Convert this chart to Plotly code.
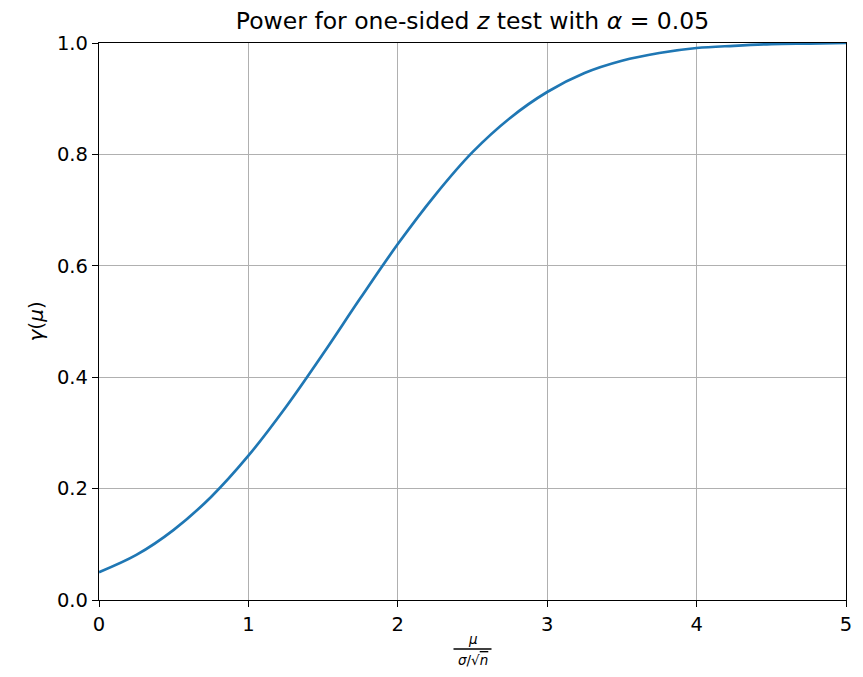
import plotly.graph_objects as go

# values (power curve)
x_vals = [0, 0.25, 0.5, 0.75, 1.0, 1.25, 1.5, 1.75, 2.0, 2.25, 2.5,
          2.75, 3.0, 3.25, 3.5, 3.75, 4.0, 4.25, 4.5, 4.75, 5.0]
power = [0.050, 0.081, 0.126, 0.185, 0.259, 0.346, 0.442, 0.542, 0.639, 0.727, 0.804,
         0.865, 0.912, 0.946, 0.968, 0.982, 0.991, 0.995, 0.998, 0.999, 1.000]
x_ticks = [0, 1, 2, 3, 4, 5]
y_ticks = [0.0, 0.2, 0.4, 0.6, 0.8, 1.0]
y_tick_text = ["0.0", "0.2", "0.4", "0.6", "0.8", "1.0"]

W, H = 847, 661
L, R, T, B = 91, 9, 35, 69

fig = go.Figure()
fig.add_trace(go.Scatter(x=x_vals, y=power, mode="lines",
                         line=dict(color="#1f77b4", width=2.7, shape="spline", smoothing=1.0),
                         showlegend=False))

axis_common = dict(showline=True, linecolor="black", linewidth=1.3, mirror=True,
                   ticks="outside", ticklen=6, tickwidth=1.2, tickcolor="black",
                   showgrid=True, gridcolor="#b0b0b0", gridwidth=1.3, zeroline=False,
                   automargin=False,
                   tickfont=dict(family="DejaVu Sans", size=19.5, color="black"))

fig.update_layout(
    width=W, height=H,
    margin=dict(l=L, r=R, t=T, b=B, autoexpand=False),
    paper_bgcolor="white", plot_bgcolor="white",
    title=dict(text="Power for one-sided <i>z</i> test with <i>α</i> = 0.05",
               x=(L + (W - R)) / 2 / W, xanchor="center", y=1 - 13 / H, yanchor="middle",
               font=dict(family="DejaVu Sans", size=23.5, color="black")),
    xaxis=dict(range=[0, 5], tickvals=x_ticks, **axis_common),
    yaxis=dict(range=[0, 1], tickvals=y_ticks, ticktext=y_tick_text, **axis_common),
)

plot_w = W - L - R
plot_h = H - T - B

def py(pix_below):
    return -pix_below / plot_h

# y axis label
fig.add_annotation(text="<i>γ</i>(<i>μ</i>)", xref="paper", yref="paper",
                   x=-(L - 27) / plot_w, y=0.5, textangle=-90,
                   showarrow=False, xanchor="center", yanchor="middle",
                   font=dict(family="DejaVu Sans", size=20, color="black"))

# fraction-style x label
fig.add_annotation(text="<i>μ</i>", xref="paper", yref="paper", x=0.5, y=py(47.5),
                   showarrow=False, xanchor="center", yanchor="bottom", borderpad=0,
                   font=dict(family="DejaVu Sans", size=13.5, color="black"))
fig.add_shape(type="line", xref="paper", yref="paper",
              x0=0.5 - 19 / plot_w, x1=0.5 + 19 / plot_w,
              y0=py(49), y1=py(49), line=dict(color="black", width=1.3))
fig.add_annotation(text="<i>σ</i>/√<span style='text-decoration:overline'><i>n</i></span>",
                   xref="paper", yref="paper", x=0.5, y=py(50.5),
                   showarrow=False, xanchor="center", yanchor="top", borderpad=0,
                   font=dict(family="DejaVu Sans", size=13.5, color="black"))

fig.write_html("out.html")
